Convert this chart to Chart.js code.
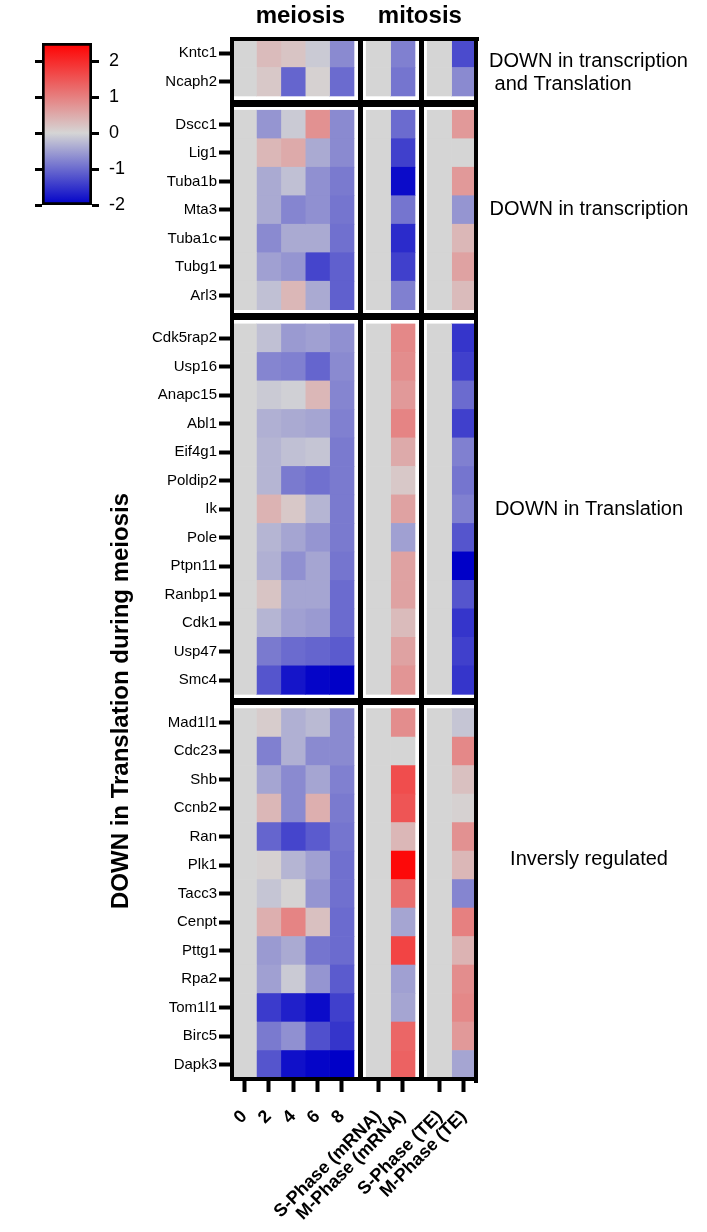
<!DOCTYPE html>
<html>
<head>
<meta charset="utf-8">
<script src="https://cdn.jsdelivr.net/npm/chart.js@4.4.1/dist/chart.umd.min.js"></script>
<style>
    body { margin: 0; background: #fff; }
    #wrap { position: relative; width: 707px; height: 1232px; }
    #heat, #scaleBar { position: absolute; left: 0; top: 0; }
</style>
</head>
<body>
<div id="wrap">
    <canvas id="heat" width="707" height="1232"></canvas>
    <canvas id="scaleBar" width="160" height="230"></canvas>
</div>
<script>
const genes = [
    'Kntc1', 'Ncaph2',
    'Dscc1', 'Lig1', 'Tuba1b', 'Mta3', 'Tuba1c', 'Tubg1', 'Arl3',
    'Cdk5rap2', 'Usp16', 'Anapc15', 'Abl1', 'Eif4g1', 'Poldip2', 'Ik', 'Pole', 'Ptpn11', 'Ranbp1', 'Cdk1', 'Usp47', 'Smc4',
    'Mad1l1', 'Cdc23', 'Shb', 'Ccnb2', 'Ran', 'Plk1', 'Tacc3', 'Cenpt', 'Pttg1', 'Rpa2', 'Tom1l1', 'Birc5', 'Dapk3'
];
const groupSizes = [2, 7, 13, 13];
const groupNotes = [['DOWN in transcription', ' and Translation'], ['DOWN in transcription'], ['DOWN in Translation'], ['Inversly regulated']];
const colLabels = ['0', '2', '4', '6', '8', 'S-Phase (mRNA)', 'M-Phase (mRNA)', 'S-Phase (TE)', 'M-Phase (TE)'];
const colorTicks = [-2, -1, 0, 1, 2];

// log ratio per column, one value per gene (same order as genes)
const h0 = genes.map(() => 0);
const h2 = [0.3, 0.15,
    -0.6, 0.35, -0.4, -0.4, -0.7, -0.5, -0.2,
    -0.2, -0.75, -0.1, -0.35, -0.3, -0.3, 0.4, -0.3, -0.35, 0.2, -0.3, -0.85, -1.2,
    0.1, -0.8, -0.45, 0.35, -1.05, 0.05, -0.15, 0.45, -0.55, -0.5, -1.45, -0.85, -1.2];
const h4 = [0.2, -1.05,
    -0.1, 0.5, -0.2, -0.75, -0.4, -0.6, 0.35,
    -0.55, -0.8, -0.05, -0.4, -0.2, -0.85, 0.15, -0.45, -0.65, -0.45, -0.5, -1.0, -1.8,
    -0.35, -0.35, -0.7, -0.7, -1.35, -0.3, 0.02, 0.95, -0.4, -0.1, -1.7, -0.65, -1.85];
const h6 = [-0.1, 0.05,
    0.8, -0.4, -0.65, -0.65, -0.4, -1.35, -0.4,
    -0.5, -1.05, 0.35, -0.45, -0.15, -0.95, -0.3, -0.6, -0.45, -0.45, -0.55, -1.05, -1.95,
    -0.25, -0.7, -0.45, 0.45, -1.15, -0.5, -0.6, 0.25, -0.9, -0.6, -1.9, -1.25, -1.95];
const h8 = [-0.7, -1.0,
    -0.7, -0.7, -0.85, -0.9, -0.95, -1.1, -1.1,
    -0.65, -0.7, -0.75, -0.8, -0.85, -0.85, -0.85, -0.85, -0.9, -1.0, -1.0, -1.15, -2.0,
    -0.7, -0.7, -0.8, -0.85, -0.9, -0.95, -0.95, -1.0, -1.0, -1.15, -1.4, -1.5, -2.0];
const sMrna = genes.map(() => 0);
const mMrna = [-0.8, -0.9,
    -1.0, -1.4, -1.9, -0.9, -1.6, -1.4, -0.8,
    0.9, 0.85, 0.7, 0.95, 0.5, 0.15, 0.6, -0.5, 0.6, 0.6, 0.3, 0.6, 0.75,
    0.85, 0, 1.6, 1.5, 0.35, 2.4, 1.2, -0.45, 1.7, -0.5, -0.45, 1.3, 1.35];
const sTe = genes.map(() => 0);
const mTe = [-1.3, -0.7,
    0.7, 0, 0.7, -0.6, 0.35, 0.6, 0.3,
    -1.5, -1.4, -1.0, -1.4, -0.8, -0.9, -0.8, -1.2, -2.0, -1.2, -1.5, -1.4, -1.5,
    -0.15, 0.9, 0.25, 0.05, 0.8, 0.35, -0.75, 1.0, 0.4, 0.85, 0.9, 0.7, -0.45];
const columns = [h0, h2, h4, h6, h8, sMrna, mMrna, sTe, mTe];

// layout of the grid: columns sit on a linear axis with gaps between blocks
const colPos = [0, 1, 2, 3, 4, 5.5, 6.5, 8, 9];
const sepX = [4.75, 7.25];
const rowPos = [];
const sepY = [];
let p = 0;
groupSizes.forEach(function (n, g) {
    for (let k = 0; k < n; k++) rowPos.push(p++);
    if (g < groupSizes.length - 1) sepY.push(p - 1 + 0.75);
    p += 0.5;
});
const yMax = rowPos[rowPos.length - 1] + 0.5;

const stops = [[-2, [0, 0, 200]], [0, [213, 213, 213]], [2.5, [255, 0, 0]]];
function colorFor(v) {
    v = Math.max(stops[0][0], Math.min(stops[2][0], v));
    const a = v < 0 ? stops[0] : stops[1];
    const b = v < 0 ? stops[1] : stops[2];
    const t = (v - a[0]) / (b[0] - a[0]);
    const c = a[1].map((x, i) => Math.round(x + (b[1][i] - x) * t));
    return 'rgb(' + c.join(',') + ')';
}

const FONT = "'Liberation Sans', Arial, sans-serif";
Chart.defaults.font.family = FONT;
Chart.defaults.color = '#000';

const datasets = columns.map(function (vals, j) {
    return {
        data: rowPos.map(r => ({ x: colPos[j], y: [r - 0.5, r + 0.5] })),
        backgroundColor: vals.map(colorFor),
        borderWidth: 0,
        grouped: false,
        barPercentage: 1,
        categoryPercentage: 1
    };
});

const setTicks = list => axis => { axis.ticks = list.map(v => ({ value: v })); };

const textPlugin = {
    id: 'texts',
    afterDraw(chart) {
        const c = chart.ctx;
        const x = chart.scales.x;
        c.save();
        c.fillStyle = '#000';
        c.textAlign = 'center';
        c.font = 'bold 24px ' + FONT;
        c.fillText('meiosis', x.getPixelForValue(2.3), 23);
        c.fillText('mitosis', x.getPixelForValue(7.2), 23);

        c.font = '20px ' + FONT;
        c.textAlign = 'left';
        c.fillText(groupNotes[0][0], 489, 67);
        c.fillText(groupNotes[0][1], 489, 90);
        c.textAlign = 'center';
        c.fillText(groupNotes[1][0], 589, 215);
        c.fillText(groupNotes[2][0], 589, 515);
        c.fillText(groupNotes[3][0], 589, 865);

        c.translate(121, 701);
        c.rotate(-Math.PI / 2);
        c.font = 'bold 24px ' + FONT;
        c.textBaseline = 'middle';
        c.fillText('DOWN in Translation during meiosis', 0, 0);
        c.restore();
    }
};

new Chart(document.getElementById('heat'), {
    type: 'bar',
    data: { datasets: datasets },
    plugins: [textPlugin],
    options: {
        responsive: false,
        animation: false,
        layout: { padding: 0 },
        plugins: { legend: { display: false }, tooltip: { enabled: false } },
        scales: {
            x: {
                type: 'linear', position: 'bottom', min: -0.5, max: 9.5, offset: false,
                afterBuildTicks: setTicks(colPos),
                afterFit: axis => { axis.height = 153; },
                ticks: {
                    autoSkip: false, minRotation: 45, maxRotation: 45, padding: 14,
                    font: { size: 18, weight: 'bold' },
                    callback: (v, i) => colLabels[i]
                },
                grid: { offset: false, drawOnChartArea: false, tickLength: 13, tickWidth: 4, tickColor: '#000' },
                border: { display: true, width: 4, color: '#000', z: 1 }
            },
            xTop: {
                type: 'linear', position: 'top', min: -0.5, max: 9.5, offset: false,
                afterBuildTicks: setTicks(sepX),
                afterFit: axis => { axis.height = 39; },
                ticks: { display: false },
                grid: { offset: false, color: '#000', lineWidth: 5, drawTicks: false },
                border: { display: true, width: 4, color: '#000', z: 1 }
            },
            y: {
                type: 'linear', position: 'left', min: -0.5, max: yMax, reverse: true,
                afterBuildTicks: setTicks(rowPos),
                afterFit: axis => { axis.width = 232; },
                ticks: {
                    autoSkip: false, padding: 2,
                    font: { size: 15 },
                    callback: (v, i) => genes[i]
                },
                grid: { drawOnChartArea: false, tickLength: 13, tickWidth: 4, tickColor: '#000' },
                border: { display: true, width: 4, color: '#000', z: 1 }
            },
            yRight: {
                type: 'linear', position: 'right', min: -0.5, max: yMax, reverse: true,
                afterBuildTicks: setTicks(sepY),
                afterFit: axis => { axis.width = 231; },
                ticks: { display: false },
                grid: { color: '#000', lineWidth: 7, drawTicks: false },
                border: { display: true, width: 4, color: '#000', z: 1 }
            }
        }
    }
});

// colour scale bar
new Chart(document.getElementById('scaleBar'), {
    type: 'bar',
    data: {
        labels: [''],
        datasets: [{
            data: [[stops[0][0], stops[2][0]]],
            backgroundColor: function (ctx) {
                const chart = ctx.chart;
                if (!chart.chartArea) return null;
                const ys = chart.scales.y;
                const lo = stops[0][0], hi = stops[2][0];
                const g = chart.ctx.createLinearGradient(0, ys.getPixelForValue(lo), 0, ys.getPixelForValue(hi));
                stops.forEach(s => g.addColorStop((s[0] - lo) / (hi - lo), 'rgb(' + s[1].join(',') + ')'));
                return g;
            },
            borderColor: '#000',
            borderWidth: 3,
            borderSkipped: false,
            barPercentage: 1,
            categoryPercentage: 1
        }]
    },
    options: {
        responsive: false,
        animation: false,
        layout: { padding: { top: 43, bottom: 25 } },
        plugins: { legend: { display: false }, tooltip: { enabled: false } },
        scales: {
            x: { display: false },
            y: {
                position: 'right', min: stops[0][0], max: stops[2][0],
                afterBuildTicks: setTicks(colorTicks),
                afterFit: axis => { axis.width = 68; },
                ticks: { padding: 10, font: { size: 18 } },
                grid: { drawOnChartArea: false, tickLength: 7, tickWidth: 3, tickColor: '#000' },
                border: { display: false }
            },
            yl: {
                position: 'left', min: stops[0][0], max: stops[2][0],
                afterBuildTicks: setTicks(colorTicks),
                afterFit: axis => { axis.width = 42; },
                ticks: { display: false },
                grid: { drawOnChartArea: false, tickLength: 7, tickWidth: 3, tickColor: '#000' },
                border: { display: false }
            }
        }
    }
});
</script>
</body>
</html>
